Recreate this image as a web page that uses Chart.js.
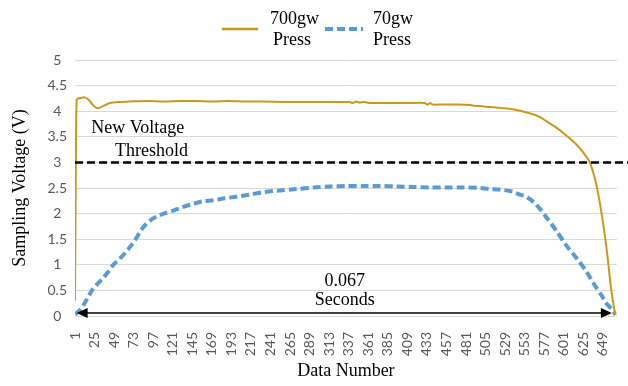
<!DOCTYPE html>
<html>
<head>
<meta charset="utf-8">
<script src="https://cdn.jsdelivr.net/npm/chart.js@4.4.1/dist/chart.umd.min.js"></script>
<style>
  html, body { margin: 0; padding: 0; background: #fff; }
  #wrap { width: 628px; height: 386px; }
</style>
</head>
<body>
<div id="wrap"><canvas id="grafico"></canvas></div>
<script>
// tick labels on the x axis (data number)
const xTicks = [1, 25, 49, 73, 97, 121, 145, 169, 193, 217, 241, 265, 289, 313, 337, 361, 385, 409, 433, 457, 481, 505, 529, 553, 577, 601, 625, 649];

// 700gw press
const forteX = [1, 2, 3, 5, 8, 13, 18, 23, 28, 33, 38, 44, 55, 68, 90, 110, 130, 150, 170, 190, 210, 230, 260, 290, 320, 338, 342, 346, 350, 356, 362, 367, 390, 410, 430, 434, 437, 440, 452, 470, 486, 492, 498, 510, 525, 538, 550, 559, 570, 580, 590, 600, 608, 617, 625, 633, 641, 647, 653, 659, 664];
const forteY = [0.3, 2.8, 4.22, 4.25, 4.26, 4.27, 4.22, 4.12, 4.06, 4.08, 4.12, 4.16, 4.18, 4.19, 4.2, 4.19, 4.2, 4.2, 4.19, 4.2, 4.19, 4.19, 4.18, 4.18, 4.18, 4.18, 4.16, 4.19, 4.17, 4.18, 4.16, 4.16, 4.16, 4.16, 4.16, 4.13, 4.16, 4.13, 4.13, 4.13, 4.12, 4.1, 4.1, 4.08, 4.06, 4.04, 4.0, 3.96, 3.9, 3.8, 3.7, 3.58, 3.47, 3.34, 3.19, 3.0, 2.56, 2.04, 1.38, 0.54, 0.02];

// 70gw press
const fracoX = [1, 6, 11, 17, 23, 30, 36, 42, 48, 56, 64, 70, 75, 80, 85, 93, 101, 110, 122, 134, 146, 158, 171, 185, 199, 215, 232, 252, 273, 294, 314, 334, 354, 375, 396, 416, 437, 457, 477, 498, 510, 522, 538, 547, 555, 567, 580, 592, 604, 617, 629, 639, 647, 653, 659, 662, 664];
const fracoY = [0.03, 0.1, 0.2, 0.37, 0.53, 0.65, 0.75, 0.87, 1.0, 1.12, 1.26, 1.38, 1.49, 1.62, 1.74, 1.86, 1.94, 2.0, 2.06, 2.13, 2.19, 2.24, 2.26, 2.3, 2.33, 2.37, 2.42, 2.45, 2.48, 2.51, 2.53, 2.54, 2.54, 2.54, 2.53, 2.52, 2.51, 2.51, 2.51, 2.5, 2.48, 2.47, 2.43, 2.37, 2.33, 2.18, 1.92, 1.66, 1.38, 1.12, 0.86, 0.6, 0.41, 0.25, 0.15, 0.1, 0.02];

const limiar = 3;             // new voltage threshold
const setaInicio = 3, setaFim = 660, setaY = 0.06;   // 0.067 s arrow

const COR_FORTE = "#c99a1a";
const COR_FRACO = "#5b9bd5";
const SERIF = "'Liberation Serif', 'Times New Roman', serif";

const pontos = (xs, ys) => xs.map((x, i) => ({ x: x, y: ys[i] }));

// draws threshold, arrow, notes and legend
const extras = {
    id: "extras",
    afterDatasetsDraw(chart) {
        const ctx = chart.ctx;
        const sx = chart.scales.x, sy = chart.scales.y;
        ctx.save();

        // threshold line
        const yl = sy.getPixelForValue(limiar);
        ctx.strokeStyle = "#000";
        ctx.lineWidth = 2.5;
        ctx.setLineDash([8, 4]);
        ctx.beginPath();
        ctx.moveTo(chart.chartArea.left, yl);
        ctx.lineTo(chart.width, yl);
        ctx.stroke();
        ctx.setLineDash([]);

        // double arrow
        const ya = sy.getPixelForValue(setaY);
        const xa = sx.getPixelForValue(setaInicio), xb = sx.getPixelForValue(setaFim);
        ctx.lineWidth = 1.5;
        ctx.beginPath();
        ctx.moveTo(xa + 8, ya);
        ctx.lineTo(xb - 8, ya);
        ctx.stroke();
        ctx.fillStyle = "#000";
        ctx.beginPath();
        ctx.moveTo(xa, ya); ctx.lineTo(xa + 11, ya - 5); ctx.lineTo(xa + 11, ya + 5); ctx.closePath();
        ctx.fill();
        ctx.beginPath();
        ctx.moveTo(xb, ya); ctx.lineTo(xb - 11, ya - 5); ctx.lineTo(xb - 11, ya + 5); ctx.closePath();
        ctx.fill();

        // notes
        ctx.font = "18px " + SERIF;
        ctx.textAlign = "center";
        ctx.textBaseline = "middle";
        ctx.fillText("New Voltage", sx.getPixelForValue(78), sy.getPixelForValue(3.66));
        ctx.fillText("Threshold", sx.getPixelForValue(95), sy.getPixelForValue(3.21));
        ctx.fillText("0.067", sx.getPixelForValue(332), sy.getPixelForValue(0.68));
        ctx.fillText("Seconds", sx.getPixelForValue(332), sy.getPixelForValue(0.31));

        // legend
        ctx.font = "18px " + SERIF;
        ctx.textAlign = "left";
        ctx.strokeStyle = COR_FORTE;
        ctx.lineWidth = 2.5;
        ctx.beginPath(); ctx.moveTo(222, 29); ctx.lineTo(258, 29); ctx.stroke();
        ctx.fillText("700gw", 270, 19);
        ctx.fillText("Press", 273, 40);
        ctx.strokeStyle = COR_FRACO;
        ctx.lineWidth = 4;
        ctx.setLineDash([8, 4]);
        ctx.beginPath(); ctx.moveTo(325, 29); ctx.lineTo(363, 29); ctx.stroke();
        ctx.setLineDash([]);
        ctx.fillText("70gw", 373, 19);
        ctx.fillText("Press", 373, 40);

        ctx.restore();
    }
};

const ctx = document.getElementById("grafico").getContext("2d");
const chart = new Chart(ctx, {
    type: "line",
    data: {
        datasets: [{
            label: "700gw Press",
            data: pontos(forteX, forteY),
            borderColor: COR_FORTE,
            borderWidth: 2,
            pointRadius: 0,
            tension: 0.3
        }, {
            label: "70gw Press",
            data: pontos(fracoX, fracoY),
            borderColor: COR_FRACO,
            borderWidth: 4,
            borderDash: [8, 4],
            pointRadius: 0,
            tension: 0.3
        }]
    },
    options: {
        responsive: true,
        maintainAspectRatio: false,
        animation: false,
        layout: { padding: { top: 60, left: 9, right: 11, bottom: 0 } },
        plugins: { legend: { display: false }, tooltip: { enabled: false } },
        scales: {
            x: {
                type: "linear",
                min: 1,
                max: 666,
                afterBuildTicks: s => { s.ticks = xTicks.map(v => ({ value: v })); },
                afterFit: s => { s.height = 70; },
                grid: { display: false },
                border: { display: false },
                ticks: {
                    autoSkip: false,
                    minRotation: 90,
                    maxRotation: 90,
                    padding: 8,
                    color: "#595959",
                    font: { family: "Lato", size: 14 },
                    callback: v => String(v)
                },
                title: {
                    display: true,
                    text: "Data Number",
                    color: "#000",
                    font: { family: SERIF, size: 18 },
                    padding: { top: 0, bottom: 4 }
                }
            },
            y: {
                min: 0,
                max: 5,
                afterFit: s => { s.width = 66; },
                ticks: {
                    stepSize: 0.5,
                    crossAlign: "center",
                    color: "#595959",
                    font: { family: "Lato", size: 14 },
                    callback: v => String(+v.toFixed(1))
                },
                grid: { color: "#d9d9d9", lineWidth: 1, drawTicks: true, tickLength: 5, tickColor: "rgba(0,0,0,0)" },
                border: { display: false },
                title: {
                    display: true,
                    text: "Sampling Voltage (V)",
                    color: "#000",
                    font: { family: SERIF, size: 18 },
                    padding: { top: 0, bottom: 2 }
                }
            }
        }
    },
    plugins: [extras]
});
</script>
</body>
</html>
